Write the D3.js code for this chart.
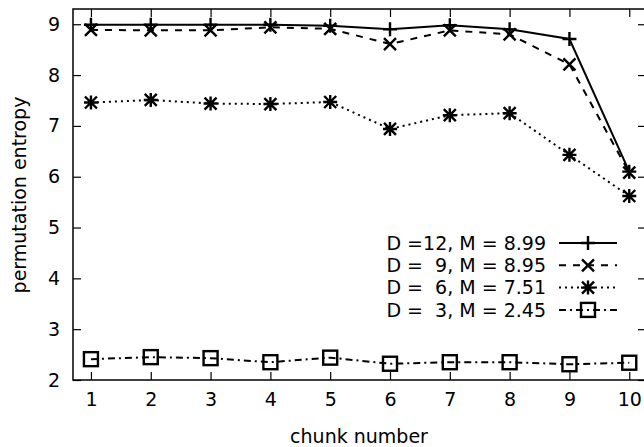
<!DOCTYPE html>
<html>
<head>
<meta charset="utf-8">
<script src="https://cdn.jsdelivr.net/npm/d3@7/dist/d3.min.js"></script>
<style>
  body { margin: 0; background: #fff; }
  text { font-family: "DejaVu Sans", sans-serif; fill: #000; }
</style>
</head>
<body>
<div class="chart"></div>
<script>
// Configuration
var width = 644;
var height = 447;
var fontSize = 19;

// data
var chunks = [1, 2, 3, 4, 5, 6, 7, 8, 9, 10];
var d12 = [8.99, 8.99, 8.99, 8.99, 8.97, 8.90, 8.98, 8.90, 8.71, 6.10];
var d9  = [8.89, 8.88, 8.88, 8.94, 8.91, 8.61, 8.88, 8.80, 8.21, 6.08];
var d6  = [7.46, 7.51, 7.44, 7.43, 7.47, 6.94, 7.21, 7.25, 6.43, 5.62];
var d3v = [2.41, 2.45, 2.43, 2.35, 2.44, 2.32, 2.35, 2.35, 2.31, 2.34];
var yTicks = [2, 3, 4, 5, 6, 7, 8, 9];
var legendLabels = ["D =12, M = 8.99", "D =  9, M = 8.95", "D =  6, M = 7.51", "D =  3, M = 2.45"];

var series = [
  {values: d12, dash: null,          marker: "plus"},
  {values: d9,  dash: "7,7",         marker: "cross"},
  {values: d6,  dash: "2,4",         marker: "star"},
  {values: d3v, dash: "7,4,2,4",     marker: "box"}
];

// plot frame
var plotLeft = 73, plotTop = 9, plotRight = 646, plotBottom = 380;

var x = d3.scaleLinear().domain([0.7, 10.28]).range([plotLeft, plotRight]);
var y = d3.scaleLinear().domain([2, 9.3]).range([plotBottom, plotTop]);

var svg = d3.select(".chart").append("svg")
    .attr("width", width)
    .attr("height", height);

svg.append("defs").append("clipPath").attr("id", "plotclip")
  .append("rect")
    .attr("x", plotLeft).attr("y", plotTop)
    .attr("width", plotRight - plotLeft).attr("height", plotBottom - plotTop);

// axes with inward ticks (gnuplot style)
var tick = 8;
svg.append("g")
    .attr("transform", "translate(0," + plotBottom + ")")
    .call(d3.axisBottom(x).tickValues(chunks).tickSize(-tick).tickPadding(13))
    .call(g => g.select(".domain").remove());
svg.append("g")
    .attr("transform", "translate(0," + plotTop + ")")
    .call(d3.axisTop(x).tickValues(chunks).tickSize(-tick).tickFormat(""))
    .call(g => g.select(".domain").remove());
svg.append("g")
    .attr("transform", "translate(" + plotLeft + ",0)")
    .call(d3.axisLeft(y).tickValues(yTicks).tickSize(-tick).tickPadding(13))
    .call(g => g.select(".domain").remove());
svg.append("g")
    .attr("transform", "translate(" + plotRight + ",0)")
    .call(d3.axisRight(y).tickValues(yTicks).tickSize(-tick).tickFormat(""))
    .call(g => g.select(".domain").remove());

svg.selectAll(".tick line").attr("stroke", "#000").attr("stroke-width", 1.2);
svg.selectAll(".tick text")
    .style("font-size", fontSize + "px")
    .style("font-family", "'DejaVu Sans', sans-serif");

// frame
svg.append("rect")
    .attr("x", plotLeft).attr("y", plotTop)
    .attr("width", plotRight - plotLeft).attr("height", plotBottom - plotTop)
    .attr("fill", "none")
    .attr("stroke", "#000")
    .attr("stroke-width", 1.5);

// axis labels
svg.append("text")
    .attr("x", 359).attr("y", 443)
    .attr("text-anchor", "middle")
    .style("font-size", fontSize + "px")
    .text("chunk number");
svg.append("text")
    .attr("transform", "translate(26,195) rotate(-90)")
    .attr("text-anchor", "middle")
    .style("font-size", fontSize + "px")
    .text("permutation entropy");

// markers
function drawMarker(g, type, cx, cy) {
  var s = 7, c = 6;
  if (type == "plus") {
    g.append("path").attr("d", "M" + (cx - s) + "," + cy + "H" + (cx + s) + "M" + cx + "," + (cy - s) + "V" + (cy + s));
  } else if (type == "cross") {
    g.append("path").attr("d", "M" + (cx - c) + "," + (cy - c) + "L" + (cx + c) + "," + (cy + c) +
      "M" + (cx - c) + "," + (cy + c) + "L" + (cx + c) + "," + (cy - c));
  } else if (type == "star") {
    g.append("path").attr("d", "M" + (cx - c) + "," + (cy - c) + "L" + (cx + c) + "," + (cy + c) +
      "M" + (cx - c) + "," + (cy + c) + "L" + (cx + c) + "," + (cy - c) +
      "M" + (cx - s) + "," + cy + "H" + (cx + s) + "M" + cx + "," + (cy - s) + "V" + (cy + s));
  } else if (type == "box") {
    g.append("rect").attr("x", cx - 7).attr("y", cy - 7).attr("width", 14).attr("height", 14)
      .attr("fill", "none");
  }
}

var line = d3.line()
    .x(function(d, i) { return x(chunks[i]); })
    .y(function(d) { return y(d); });

var plot = svg.append("g").attr("clip-path", "url(#plotclip)");

series.forEach(function(s) {
  plot.append("path")
      .datum(s.values)
      .attr("d", line)
      .attr("fill", "none")
      .attr("stroke", "#000")
      .attr("stroke-width", 2)
      .attr("stroke-dasharray", s.dash);
  var mg = plot.append("g").attr("stroke", "#000").attr("stroke-width", 2.4).attr("fill", "none");
  s.values.forEach(function(v, i) {
    drawMarker(mg, s.marker, x(chunks[i]), y(v));
  });
});

// legend
var legend = svg.append("g");
series.forEach(function(s, i) {
  var ly = 243 + i * 22.3;
  legend.append("text")
      .attr("x", 546).attr("y", ly)
      .attr("dy", "0.35em")
      .attr("text-anchor", "end")
      .style("white-space", "pre")
      .style("font-size", fontSize + "px")
      .text(legendLabels[i]);
  legend.append("line")
      .attr("x1", 559).attr("x2", 617)
      .attr("y1", ly).attr("y2", ly)
      .attr("stroke", "#000")
      .attr("stroke-width", 2)
      .attr("stroke-dasharray", s.dash);
  var mg = legend.append("g").attr("stroke", "#000").attr("stroke-width", 2.4).attr("fill", "none");
  drawMarker(mg, s.marker, 588, ly);
});
</script>
</body>
</html>
